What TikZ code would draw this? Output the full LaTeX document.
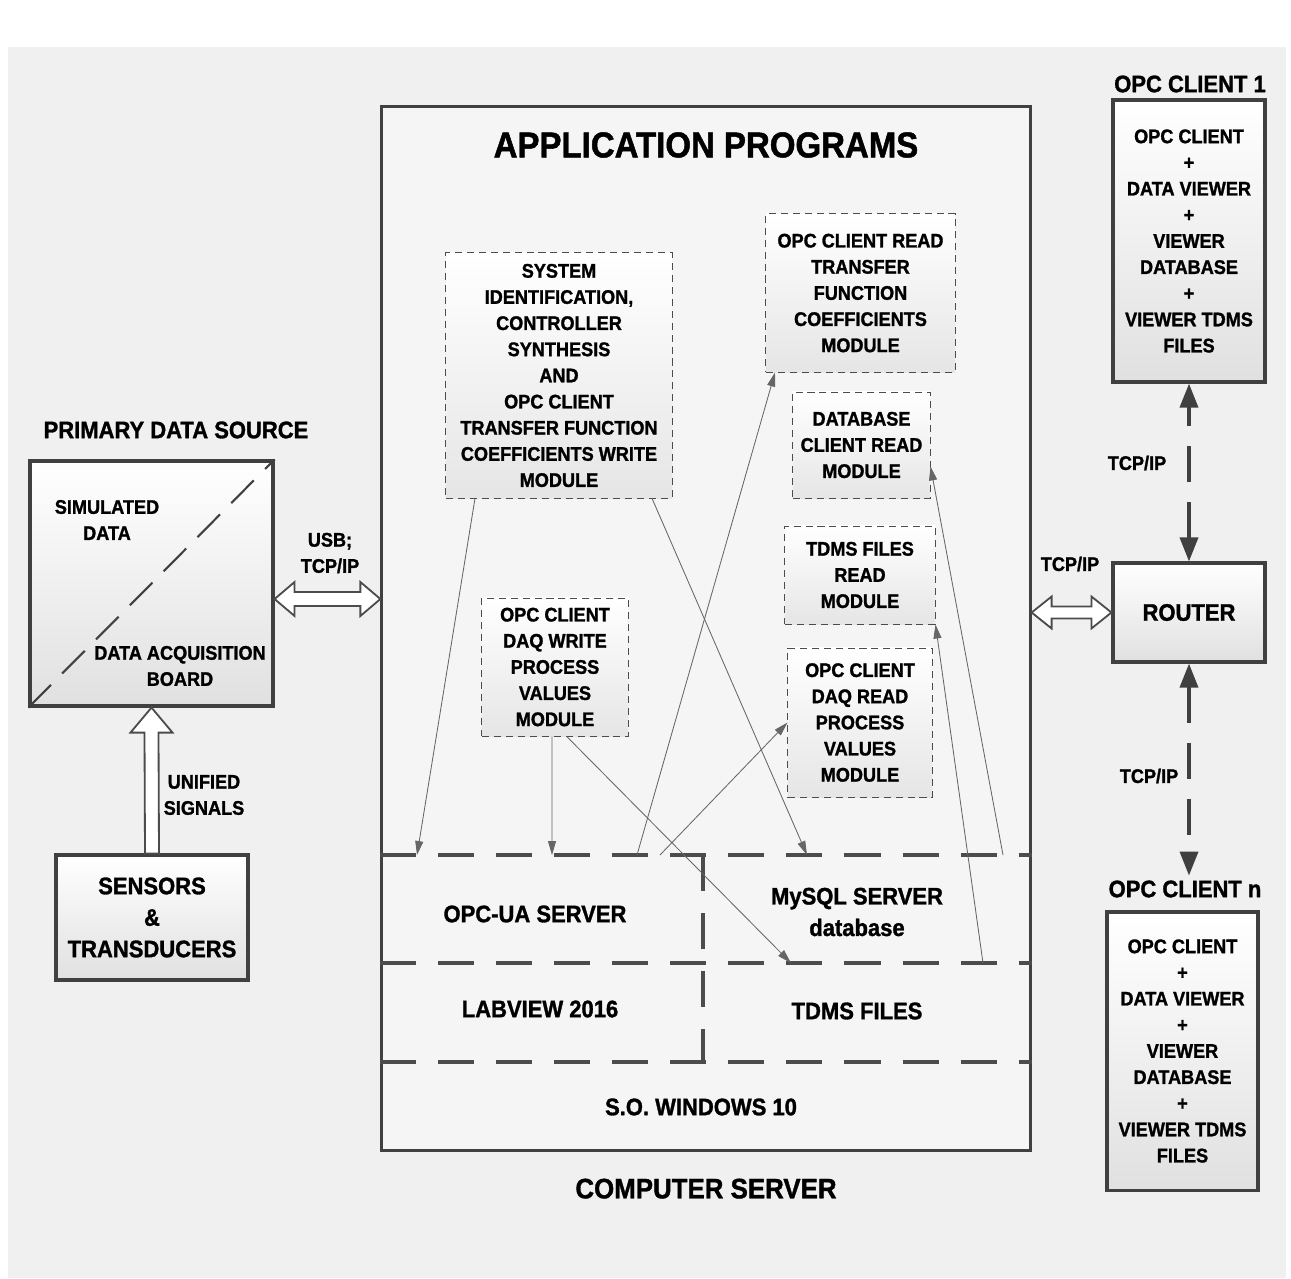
\documentclass[tikz,border=0pt]{standalone}
\usepackage{fontspec}
\setmainfont[FakeStretch=0.92, BoldFeatures={FakeBold=1.3}]{Liberation Sans}
\usetikzlibrary{positioning,calc,arrows.meta}
\tikzset{
  bx/.style={rectangle, draw=black!75, line width=2.2pt, top color=white, bottom color=black!12, align=center, font=\bfseries\fontsize{14}{18.6}\selectfont},
  md/.style={rectangle, draw=black!70, line width=0.7pt, dash pattern=on 5pt off 3.5pt, top color=white, bottom color=black!10, align=center, font=\bfseries\fontsize{14}{18.6}\selectfont},
  lb/.style={align=center, font=\bfseries\fontsize{14}{18.6}\selectfont},
  big/.style={align=center, font=\bfseries\fontsize{17}{22.4}\selectfont},
  ln/.style={-{Triangle[length=3.5mm,width=2mm]}, draw=black!60, line width=0.6pt},
  layer/.style={draw=black!70, line width=2.5pt, dash pattern=on 0.9cm off 0.55cm},
  diag/.style={draw=black!75, line width=1.5pt, dash pattern=on 0.8cm off 0.4cm},
  tcp/.style={{Triangle[length=6mm,width=4.5mm]}-{Triangle[length=6mm,width=4.5mm]}, draw=black!75, line width=2.5pt, dash pattern=on 0.9cm off 0.5cm},
  hollow/.style={draw=black!70, line width=1.3pt, fill=white, line join=miter},
  node distance=7mm
}

\begin{document}
\begin{tikzpicture}[x=0.025cm, y=-0.025cm]
	\useasboundingbox[fill=white] (0,0) rectangle (1291,1278);
	\fill[black!6] (8,47) rectangle (1286,1278);

	% computer server
	\node[draw=black!75, line width=2.2pt, fill=black!4, minimum width=16.2cm, minimum height=26.075cm] (main) at (706,628.5) {};
	\node[align=center, font=\bfseries\fontsize{25.5}{30}\selectfont] (apps) at (706,145) {APPLICATION PROGRAMS};
	\node[big, font=\bfseries\fontsize{20}{24}\selectfont, below=0.55cm of main] (cs) {COMPUTER SERVER};

	\node[md, minimum width=5.65cm, minimum height=6.125cm] (sys) at (559,375.5) {SYSTEM\\IDENTIFICATION,\\CONTROLLER\\SYNTHESIS\\AND\\OPC CLIENT\\TRANSFER FUNCTION\\COEFFICIENTS WRITE\\MODULE};
	\node[md, minimum width=4.725cm, minimum height=3.95cm] (rtf) at (860.5,293) {OPC CLIENT READ\\TRANSFER\\FUNCTION\\COEFFICIENTS\\MODULE};
	\node[md, minimum width=3.425cm, minimum height=2.65cm] (dbr) at (861.5,445) {DATABASE\\CLIENT READ\\MODULE};
	\node[md, minimum width=3.75cm, minimum height=2.45cm] (tdr) at (860,575) {TDMS FILES\\READ\\MODULE};
	\node[md, minimum width=3.6cm, minimum height=3.725cm] (dqr) at (860,722.5) {OPC CLIENT\\DAQ READ\\PROCESS\\VALUES\\MODULE};
	\node[md, minimum width=3.65cm, minimum height=3.45cm] (dqw) at (555,667) {OPC CLIENT\\DAQ WRITE\\PROCESS\\VALUES\\MODULE};

	% layers
	\draw[layer] (main.west |- 0,855) -- (main.east |- 0,855);
	\draw[layer] (main.west |- 0,963) -- (main.east |- 0,963);
	\draw[layer] (main.west |- 0,1062) -- (main.east |- 0,1062);
	\draw[layer] (703,855) -- (703,1062);
	\node[big] (opcua) at (535,914) {OPC-UA SERVER};
	\node[big] (mysql) at (857,912) {MySQL SERVER\\database};
	\node[big] (labview) at (540,1009) {LABVIEW 2016};
	\node[big] (tdms) at (857,1011) {TDMS FILES};
	\node[big] (win) at (701,1107) {S.O. WINDOWS 10};

	\coordinate (ua1) at (417,855);
	\coordinate (ua2) at (552,855);
	\coordinate (ua3) at (637,855);
	\coordinate (ua4) at (660,855);
	\coordinate (sq1) at (807,855);
	\coordinate (sq2) at (1003,855);
	\coordinate (td1) at (791,963);
	\coordinate (td2) at (983,963);

	\draw[ln] ($(sys.south west)!0.13!(sys.south east)$) -- (ua1);
	\draw[ln] ($(sys.south west)!0.91!(sys.south east)$) -- (sq1);
	\draw[ln] ($(dqw.south west)!0.48!(dqw.south east)$) -- (ua2);
	\draw[ln] ($(dqw.south west)!0.58!(dqw.south east)$) -- (td1);
	\draw[ln] (ua3) -- ($(rtf.south west)!0.05!(rtf.south east)$);
	\draw[ln] (ua4) -- (dqr.west);
	\draw[ln] (td2) -- (tdr.south east);
	\draw[ln] (sq2) -- ($(dbr.north east)!0.7!(dbr.south east)$);

	% primary data source
	\node[bx, minimum width=6.075cm, minimum height=6.125cm] (pds) at (151.5,583.5) {};
	\draw[diag] (pds.south west) -- (pds.north east);
	\node[big] (pdsl) at (176,430) {PRIMARY DATA SOURCE};
	\node[lb] (sim) at (107,520) {SIMULATED\\DATA};
	\node[lb] (daq) at (180,666) {DATA ACQUISITION\\BOARD};
	\node[bx, big, minimum width=4.8cm, minimum height=3.125cm] (sens) at (152,917.5) {SENSORS\\\&\\TRANSDUCERS};

	\draw[hollow] ($(sens.north)+(-7,0)$) -- ($(pds.south)+(-7,25)$) -- ($(pds.south)+(-21,25)$) -- (pds.south)
		-- ($(pds.south)+(21,25)$) -- ($(pds.south)+(7,25)$) -- ($(sens.north)+(7,0)$) -- cycle;
	\node[lb] (uni) at (204,795) {UNIFIED\\SIGNALS};

	\coordinate (u1) at (pds.east |- 0,599);
	\coordinate (u2) at (main.west |- 0,599);
	\draw[hollow] (u1) -- ($(u1)+(20,-17)$) -- ($(u1)+(20,-7)$) -- ($(u2)+(-20,-7)$) -- ($(u2)+(-20,-17)$) -- (u2)
		-- ($(u2)+(-20,17)$) -- ($(u2)+(-20,7)$) -- ($(u1)+(20,7)$) -- ($(u1)+(20,17)$) -- cycle;
	\node[lb] (usbl) at (330,553) {USB;\\TCP/IP};

	% clients
	\node[bx, minimum width=3.8cm, minimum height=7.05cm] (cl1) at (1189,241) {OPC CLIENT\\+\\DATA VIEWER\\+\\VIEWER\\DATABASE\\+\\VIEWER TDMS\\FILES};
	\node[big] (cl1l) at (1190,84) {OPC CLIENT 1};
	\node[bx, big, minimum width=3.8cm, minimum height=2.475cm] (router) at (1189,612.5) {ROUTER};
	\node[bx, minimum width=3.775cm, minimum height=6.95cm] (cln) at (1182.5,1051) {OPC CLIENT\\+\\DATA VIEWER\\+\\VIEWER\\DATABASE\\+\\VIEWER TDMS\\FILES};
	\node[big] (clnl) at (1185,889) {OPC CLIENT n};

	\coordinate (r1) at (main.east |- router.west);
	\coordinate (r2) at (router.west);
	\draw[hollow] (r1) -- ($(r1)+(20,-16)$) -- ($(r1)+(20,-6)$) -- ($(r2)+(-20,-6)$) -- ($(r2)+(-20,-16)$) -- (r2)
		-- ($(r2)+(-20,16)$) -- ($(r2)+(-20,6)$) -- ($(r1)+(20,6)$) -- ($(r1)+(20,16)$) -- cycle;
	\node[lb] (tcp0) at (1070,564) {TCP/IP};
	\draw[tcp] (router.north) -- (cl1.south);
	\node[lb] (tcp1) at (1137,463) {TCP/IP};
	\draw[tcp] (router.south) -- (clnl.north -| router.south);
	\node[lb] (tcp2) at (1149,776) {TCP/IP};
\end{tikzpicture}
\end{document}
